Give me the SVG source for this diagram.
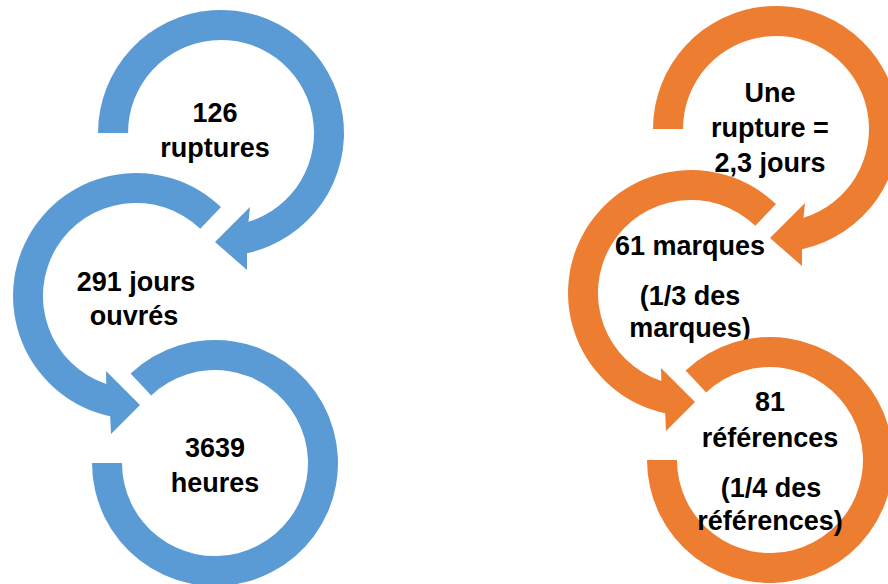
<svg xmlns="http://www.w3.org/2000/svg" width="888" height="584" viewBox="0 0 888 584">
<style>
.b{fill:#5B9BD5}
.o{fill:#ED7D31}
.t{font-family:"Liberation Sans",Arial,sans-serif;font-weight:bold;font-size:27px;fill:#000;text-anchor:middle}
</style>
<defs>
<path id="a1" d="M98,133 A123,123 0 1 1 247,253.2 L247,270 L215,242 L250,207 L248.5,221.8 A93,93 0 1 0 128,133 Z"/>
<path id="a2" d="M221,207.1 A123,123 0 1 0 110.2,416.3 L111,434 L140,405 L106,371 L106.3,384.1 A93,93 0 1 1 200.3,228.8 Z"/>
<path id="a3" d="M130.6,373.5 A123,123 0 1 1 92,463 L122,463 A93,93 0 1 0 151.2,395.4 Z"/>
</defs>
<rect width="888" height="584" fill="#fff"/>
<g id="connectors"></g>
<g id="blue1"><use href="#a1" class="b"/><text class="t" x="215" y="122">126</text><text class="t" x="215" y="157">ruptures</text></g>
<g id="blue2"><use href="#a2" class="b"/><text class="t" x="136" y="291">291 jours</text><text class="t" x="134" y="325">ouvrés</text></g>
<g id="blue3"><use href="#a3" class="b"/><text class="t" x="215" y="457">3639</text><text class="t" x="215" y="492">heures</text></g>
<g id="orange1"><use href="#a1" class="o" transform="translate(555,-4)"/><text class="t" x="770" y="102">Une</text><text class="t" x="770" y="137">rupture =</text><text class="t" x="770" y="172">2,3 jours</text></g>
<g id="orange2"><use href="#a2" class="o" transform="translate(555,-3)"/><text class="t" x="690" y="255">61 marques</text><text class="t" x="690" y="305">(1/3 des</text><text class="t" x="690" y="337">marques)</text></g>
<g id="orange3"><use href="#a3" class="o" transform="translate(555,-3)"/><text class="t" x="770" y="411">81</text><text class="t" x="770" y="447">références</text><text class="t" x="771" y="497">(1/4 des</text><text class="t" x="770" y="530">références)</text></g>
</svg>
